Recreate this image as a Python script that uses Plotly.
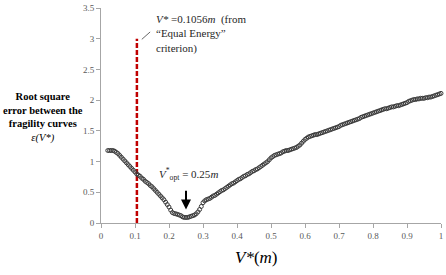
import plotly.graph_objects as go

x_vals = [round(0.02 + 0.005 * i, 3) for i in range(197)]
y_vals = [
    1.18, 1.18, 1.18, 1.18, 1.17, 1.15, 1.13, 1.10, 1.07, 1.04,   # 0.020-0.065
    1.01, 0.98, 0.95, 0.92, 0.89, 0.86, 0.83, 0.80, 0.78, 0.76,   # 0.070-0.115
    0.73, 0.71, 0.68, 0.66, 0.64, 0.61, 0.59, 0.56, 0.53, 0.50,   # 0.120-0.165
    0.47, 0.44, 0.41, 0.38, 0.34, 0.30, 0.26, 0.21, 0.17, 0.155,  # 0.170-0.215
    0.15, 0.14, 0.13, 0.12, 0.10, 0.09, 0.09, 0.09, 0.10, 0.11,   # 0.220-0.265
    0.12, 0.13, 0.15, 0.18, 0.22, 0.27, 0.33, 0.36, 0.38, 0.39,   # 0.270-0.315
    0.40, 0.42, 0.44, 0.45, 0.47, 0.49, 0.51, 0.53, 0.54, 0.56,   # 0.320-0.365
    0.58, 0.60, 0.62, 0.64, 0.65, 0.67, 0.69, 0.71, 0.72, 0.74,   # 0.370-0.415
    0.76, 0.77, 0.79, 0.80, 0.82, 0.84, 0.85, 0.87, 0.88, 0.90,   # 0.420-0.465
    0.92, 0.94, 0.96, 0.98, 1.00, 1.03, 1.06, 1.08, 1.10, 1.11,   # 0.470-0.515
    1.12, 1.13, 1.14, 1.16, 1.17, 1.18, 1.18, 1.19, 1.20, 1.21,   # 0.520-0.565
    1.22, 1.23, 1.25, 1.27, 1.30, 1.33, 1.36, 1.38, 1.40, 1.41,   # 0.570-0.615
    1.42, 1.43, 1.44, 1.44, 1.45, 1.46, 1.47, 1.48, 1.49, 1.50,   # 0.620-0.665
    1.51, 1.52, 1.53, 1.54, 1.55, 1.56, 1.57, 1.59, 1.60, 1.61,   # 0.670-0.715
    1.62, 1.63, 1.64, 1.65, 1.66, 1.67, 1.68, 1.69, 1.70, 1.72,   # 0.720-0.765
    1.73, 1.74, 1.75, 1.76, 1.77, 1.78, 1.79, 1.80, 1.81, 1.82,   # 0.770-0.815
    1.83, 1.84, 1.85, 1.86, 1.86, 1.87, 1.88, 1.89, 1.89, 1.90,   # 0.820-0.865
    1.91, 1.91, 1.92, 1.93, 1.94, 1.95, 1.96, 1.98, 1.99, 2.00,   # 0.870-0.915
    2.01, 2.01, 2.02, 2.02, 2.03, 2.03, 2.03, 2.04, 2.04, 2.05,   # 0.920-0.965
    2.05, 2.06, 2.07, 2.08, 2.09, 2.10, 2.11,                     # 0.970-1.000
]
assert len(x_vals) == len(y_vals)

v_equal = 0.1056
v_opt = 0.25
x_ticks = [0, 0.1, 0.2, 0.3, 0.4, 0.5, 0.6, 0.7, 0.8, 0.9, 1]
x_tick_text = ["0", "0.1", "0.2", "0.3", "0.4", "0.5", "0.6", "0.7", "0.8", "0.9", "1"]
y_ticks = [0, 0.5, 1, 1.5, 2, 2.5, 3, 3.5]
y_tick_text = ["0", "0.5", "1", "1.5", "2", "2.5", "3", "3.5"]

serif = "Liberation Serif"

fig = go.Figure()
fig.add_trace(go.Scatter(
    x=[v_equal, v_equal], y=[0, 3], mode="lines",
    line=dict(color="#c00000", width=2.5, dash="5px,2px"), showlegend=False))
fig.add_trace(go.Scatter(
    x=x_vals, y=y_vals, mode="markers",
    marker=dict(symbol="circle-open", size=4, color="#3a3a3a", line=dict(width=1)),
    showlegend=False, cliponaxis=False))

fig.add_shape(type="line", x0=0.12, y0=2.99, x1=0.1445, y1=3.11,
              line=dict(color="#404040", width=0.8))

fig.add_annotation(x=0.156, y=3.45, xanchor="left", yanchor="top", showarrow=False,
                   align="left",
                   text="<i>V*</i> =0.1056<i>m</i>  (from<br>“Equal Energy”<br>criterion)",
                   font=dict(family=serif, size=11, color="#262626"))
fig.add_annotation(x=v_opt, y=0.22, ax=v_opt, ay=0.55, axref="x", ayref="y",
                   showarrow=True, arrowhead=2, arrowsize=1, arrowwidth=2,
                   arrowcolor="black", text="")
fig.add_annotation(x=0.258, y=0.79, showarrow=False,
                   text="<i>V</i><sup>*</sup><sub>opt</sub> = 0.25<i>m</i>",
                   font=dict(family=serif, size=11, color="#262626"))
fig.add_annotation(xref="paper", yref="paper", x=-0.17, y=0.49,
                   xanchor="center", yanchor="middle", showarrow=False,
                   text="<b>Root square<br>error between the<br>fragility curves</b><br><i>ε(V*)</i>",
                   font=dict(family=serif, size=10.5, color="black"))
fig.add_annotation(xref="paper", yref="paper", x=0.458, y=-0.16,
                   xanchor="center", yanchor="middle", showarrow=False,
                   text="<i>V*</i>(<i>m</i>)",
                   font=dict(family=serif, size=17, color="black"))

fig.update_layout(
    width=446, height=275,
    margin=dict(l=101, r=3, t=5, b=52),
    paper_bgcolor="white", plot_bgcolor="white",
    xaxis=dict(range=[0, 1], tickvals=x_ticks, ticktext=x_tick_text,
               showgrid=False, zeroline=False, showline=True, linecolor="#a6a6a6",
               ticks="outside", ticklen=4, tickcolor="#a6a6a6",
               tickfont=dict(family=serif, size=9, color="#595959")),
    yaxis=dict(range=[0, 3.5], tickvals=y_ticks, ticktext=y_tick_text,
               showgrid=False, zeroline=False, showline=True, linecolor="#a6a6a6",
               ticks="outside", ticklen=4, tickcolor="#a6a6a6",
               tickfont=dict(family=serif, size=9, color="#595959")),
)

fig.write_html("out.html")
